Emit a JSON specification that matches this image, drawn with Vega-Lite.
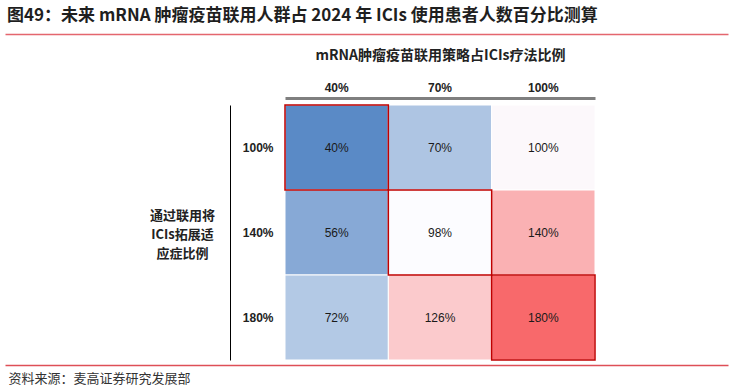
{
  "$schema": "https://vega.github.io/schema/vega-lite/v6.json",
  "width": 723,
  "height": 331,
  "autosize": "none",
  "padding": {"left": 5, "top": 34, "right": 3, "bottom": 24},
  "background": "white",
  "title": {
    "text": "图49：未来 mRNA 肿瘤疫苗联用人群占 2024 年 ICIs 使用患者人数百分比测算",
    "anchor": "start",
    "frame": "bounds",
    "baseline": "alphabetic",
    "offset": 14,
    "dy": 18,
    "dx": 2,
    "font": "Noto Sans CJK SC",
    "fontSize": 17,
    "fontWeight": "bold",
    "color": "#1F1F1F"
  },
  "data": {
    "values": [
      {"row": "100%", "col": "40%", "value": 0.40, "highlight": true},
      {"row": "100%", "col": "70%", "value": 0.70, "highlight": false},
      {"row": "100%", "col": "100%", "value": 1.00, "highlight": false},
      {"row": "140%", "col": "40%", "value": 0.56, "highlight": false},
      {"row": "140%", "col": "70%", "value": 0.98, "highlight": true},
      {"row": "140%", "col": "100%", "value": 1.40, "highlight": false},
      {"row": "180%", "col": "40%", "value": 0.72, "highlight": false},
      {"row": "180%", "col": "70%", "value": 1.26, "highlight": false},
      {"row": "180%", "col": "100%", "value": 1.80, "highlight": true}
    ]
  },
  "layer": [
    {
      "encoding": {
        "x": {
          "field": "col",
          "type": "ordinal",
          "sort": ["40%", "70%", "100%"],
          "scale": {"range": [280, 590], "paddingInner": 0, "paddingOuter": 0},
          "axis": {
            "orient": "top",
            "offset": -64,
            "domainColor": "#7F7F7F",
            "domainWidth": 3,
            "ticks": false,
            "grid": false,
            "labelAngle": 0,
            "labelFont": "Liberation Sans",
            "labelFontSize": 12,
            "labelFontWeight": "bold",
            "labelColor": "#222222",
            "labelPadding": 4,
            "title": "mRNA肿瘤疫苗联用策略占ICIs疗法比例",
            "titleFont": "Noto Sans CJK SC",
            "titleFontSize": 14,
            "titleFontWeight": "bold",
            "titleColor": "#222222",
            "titleY": -43,
            "titleBaseline": "middle"
          }
        },
        "y": {
          "field": "row",
          "type": "ordinal",
          "sort": ["100%", "140%", "180%"],
          "scale": {"range": [71, 326], "paddingInner": 0, "paddingOuter": 0},
          "axis": {
            "orient": "left",
            "offset": -225,
            "domainColor": "#000000",
            "domainWidth": 1,
            "ticks": false,
            "grid": false,
            "labelPadding": -43,
            "labelAlign": "right",
            "labelFont": "Liberation Sans",
            "labelFontSize": 12,
            "labelFontWeight": "bold",
            "labelColor": "#222222",
            "title": ["通过联用将", "ICIs拓展适", "应症比例"],
            "titleAngle": 0,
            "titleX": -48,
            "titleY": 181,
            "titleAlign": "center",
            "titleBaseline": "middle",
            "titleLineHeight": 19,
            "titleFont": "Noto Sans CJK SC",
            "titleFontSize": 13,
            "titleFontWeight": "bold",
            "titleColor": "#222222"
          }
        }
      },
      "layer": [
        {
          "mark": {"type": "rect", "stroke": "white", "strokeWidth": 1},
          "encoding": {
            "color": {
              "field": "value",
              "type": "quantitative",
              "scale": {
                "domain": [0.40, 0.98, 1.80],
                "range": ["#5A8AC6", "#FCFCFF", "#F8696B"],
                "interpolate": "rgb"
              },
              "legend": null
            }
          }
        },
        {
          "transform": [{"filter": {"field": "highlight", "equal": true}}],
          "mark": {"type": "rect", "fillOpacity": 0, "stroke": "#C00000", "strokeWidth": 1.5}
        },
        {
          "mark": {"type": "text", "font": "Liberation Sans", "fontSize": 12, "color": "#1A1A1A"},
          "encoding": {
            "text": {"field": "value", "type": "quantitative", "format": ".0%"}
          }
        }
      ]
    },
    {
      "mark": {"type": "point", "opacity": 0},
      "encoding": {
        "x": {
          "field": "col",
          "type": "ordinal",
          "axis": {
            "orient": "bottom",
            "domainColor": "#DE4F57",
            "domainWidth": 1.5,
            "ticks": false,
            "labels": false,
            "grid": false,
            "title": "资料来源：麦高证券研究发展部",
            "titleX": 3,
            "titleY": 13,
            "titleAlign": "left",
            "titleBaseline": "middle",
            "titleFont": "Noto Sans CJK SC",
            "titleFontSize": 13,
            "titleFontWeight": "normal",
            "titleColor": "#333333"
          }
        }
      }
    },
    {
      "mark": {"type": "point", "opacity": 0},
      "encoding": {
        "x": {
          "field": "col",
          "type": "ordinal",
          "axis": {
            "orient": "top",
            "domainColor": "#E4666E",
            "domainWidth": 1.5,
            "ticks": false,
            "labels": false,
            "grid": false,
            "title": null
          }
        }
      }
    }
  ],
  "resolve": {"scale": {"x": "independent"}, "axis": {"x": "independent"}},
  "config": {"view": {"stroke": null}}
}
